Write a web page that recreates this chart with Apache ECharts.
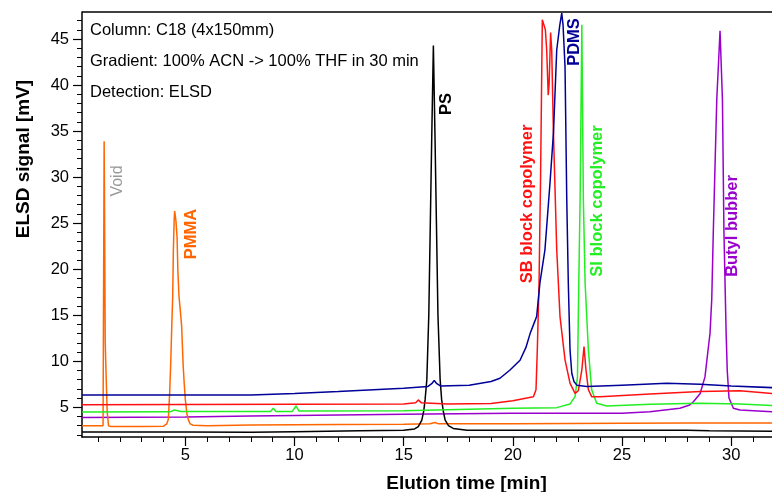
<!DOCTYPE html>
<html>
<head>
<meta charset="utf-8">
<script src="https://cdn.jsdelivr.net/npm/echarts@6/dist/echarts.min.js"></script>
<style>
  html, body { margin: 0; padding: 0; background: #fff; }
  #chart { width: 772px; height: 492px; }
</style>
</head>
<body>
<div id="chart"></div>
<script>
// Elution time [min] vs ELSD signal [mV], one trace per sample
const pmmaTrace = [[0.27,3.0],[1.0,3.0],[1.23,3.0],[1.255,18],[1.28,33.9],[1.30,26],[1.33,12],[1.37,8.5],[1.42,4.5],[1.48,3.0],[1.6,2.9],[3,2.9],[4.0,2.95],[4.15,3.2],[4.22,3.7],[4.28,6.5],[4.33,9.8],[4.38,14],[4.42,17],[4.45,22],[4.49,25.5],[4.51,26.3],[4.54,25.8],[4.57,25.2],[4.62,23.5],[4.66,19.6],[4.71,17],[4.77,15.5],[4.83,13.8],[4.9,9.5],[4.95,7.5],[5.0,5.8],[5.07,4.3],[5.14,3.6],[5.22,3.2],[5.36,3.05],[6,3.0],[8,3.08],[12,3.12],[15,3.15],[16.2,3.2],[16.44,3.35],[16.6,3.2],[20,3.2],[25,3.25],[28,3.3],[31.9,3.3]];
const psTrace = [[0.27,2.3],[5,2.3],[8,2.28],[10,2.35],[13,2.45],[15,2.5],[15.5,2.65],[15.67,2.9],[15.83,3.6],[15.92,4.6],[15.98,5.8],[16.06,8.0],[16.15,15],[16.22,25],[16.29,35],[16.36,44.3],[16.43,35],[16.5,25],[16.57,15],[16.67,8.0],[16.74,5.8],[16.82,4.5],[16.9,3.6],[17.05,3.0],[17.27,2.7],[17.9,2.5],[20,2.5],[25,2.5],[28,2.5],[29,2.45],[31.9,2.4]];
const pdmsTrace = [[0.27,6.34],[5,6.34],[8,6.34],[10,6.5],[12,6.7],[15,7.07],[16.1,7.25],[16.3,7.6],[16.4,7.9],[16.5,7.6],[16.7,7.3],[18,7.4],[19,7.8],[19.41,8.15],[19.87,9.05],[20.33,10.1],[20.6,11.5],[20.79,13.0],[21.0,14.3],[21.09,14.85],[21.24,18.5],[21.47,22.1],[21.7,29.3],[21.86,34.8],[22.01,43.8],[22.15,46.5],[22.24,47.8],[22.3,46.5],[22.39,42],[22.47,27.5],[22.54,18.5],[22.62,11.2],[22.7,8.7],[22.8,7.8],[22.93,7.4],[23.39,7.25],[25,7.4],[27.05,7.6],[28.58,7.5],[30,7.3],[31.9,7.13]];
const sbTrace = [[0.27,5.28],[5,5.3],[10,5.32],[15,5.35],[15.55,5.5],[15.67,5.8],[15.8,5.5],[17,5.35],[19,5.4],[20,5.7],[20.94,6.15],[21.06,6.9],[21.12,11.2],[21.2,18.5],[21.27,30],[21.35,47.1],[21.43,47.3],[21.49,46],[21.55,43.8],[21.62,38.9],[21.66,40],[21.73,45.7],[21.78,43.8],[21.86,34.8],[22.01,22.1],[22.16,14.85],[22.39,10.15],[22.62,7.6],[22.85,6.5],[23.0,6.8],[23.16,9.05],[23.26,11.6],[23.35,9.05],[23.46,6.9],[23.61,6.15],[24,6.15],[26.28,6.45],[28.58,6.7],[30.4,6.8],[31.9,6.5]];
const siTrace = [[0.27,4.49],[4.3,4.5],[4.5,4.7],[4.8,4.55],[8.9,4.55],[9.03,4.9],[9.15,4.55],[9.9,4.55],[10.07,5.14],[10.2,4.6],[15,4.63],[20,4.9],[22.01,4.96],[22.62,5.36],[22.85,6.15],[22.96,8.3],[23.02,18.5],[23.08,27.5],[23.16,46.55],[23.23,27.5],[23.31,18.5],[23.46,11.2],[23.61,6.9],[23.84,5.43],[24.3,5.14],[26.28,5.33],[28.58,5.43],[30.4,5.36],[31.9,5.2]];
const butylTrace = [[0.27,3.9],[5,3.95],[8,4.05],[15,4.24],[20,4.35],[25,4.35],[26.28,4.52],[27.65,4.9],[28.1,5.25],[28.27,5.6],[28.58,6.5],[28.8,8.3],[28.96,11.6],[29.03,13],[29.11,16.7],[29.18,23.9],[29.34,38.4],[29.49,45.9],[29.6,38.4],[29.67,23.9],[29.77,13],[29.82,9],[29.9,6.0],[30.1,4.9],[30.4,4.7],[31.9,4.5]];

const xMajorTicks = [5, 10, 15, 20, 25, 30];
const xMinorTicks = [1,2,3,4,5,6,7,8,9,10,11,12,13,14,15,16,17,18,19,20,21,22,23,24,25,26,27,28,29,30,31];
const yMajorTicks = [5, 10, 15, 20, 25, 30, 35, 40, 45];
const yMinorTicks = [2,3,4,5,6,7,8,9,10,11,12,13,14,15,16,17,18,19,20,21,22,23,24,25,26,27,28,29,30,31,32,33,34,35,36,37,38,39,40,41,42,43,44,45,46,47];

const FONT = "'Liberation Sans', Arial, sans-serif";
const X_MIN = 0.266, X_MAX = 31.87, Y_MIN = 1.77, Y_MAX = 47.93;

const chart = echarts.init(document.getElementById('chart'), null, { renderer: 'canvas' });

function axisBase(min, max) {
  return {
    type: 'value', min: min, max: max,
    splitLine: { show: false },
    axisLine: { show: true, lineStyle: { color: '#000', width: 1.5 } }
  };
}

function trace(name, data, color) {
  return {
    name: name, type: 'line', data: data,
    xAxisIndex: 0, yAxisIndex: 0,
    showSymbol: false, symbol: 'none',
    lineStyle: { color: color, width: 1.5 },
    animation: false
  };
}

function vtext(str, x, y, color, bold, size) {
  return {
    type: 'text', x: x, y: y, rotation: Math.PI / 2,
    style: {
      text: str, fill: color, align: 'center', verticalAlign: 'middle',
      font: (bold ? 'bold ' : '') + size + 'px ' + FONT
    }
  };
}

function htext(str, x, y) {
  return {
    type: 'text', x: x, y: y,
    style: { text: str, fill: '#000', align: 'left', verticalAlign: 'middle', font: '16.5px ' + FONT }
  };
}

chart.setOption({
  backgroundColor: '#fff',
  animation: false,
  grid: { left: 82, right: 0, top: 12, bottom: 55, containLabel: false },
  xAxis: [
    Object.assign(axisBase(X_MIN, X_MAX), {
      position: 'bottom',
      axisTick: { show: true, customValues: xMajorTicks, length: 9, lineStyle: { color: '#000', width: 1.2 } },
      axisLabel: { show: true, customValues: xMajorTicks, margin: 10, color: '#000', fontSize: 16.5, fontFamily: FONT }
    }),
    Object.assign(axisBase(X_MIN, X_MAX), {
      position: 'bottom',
      axisLine: { show: false },
      axisTick: { show: true, customValues: xMinorTicks, length: 5, lineStyle: { color: '#000', width: 1 } },
      axisLabel: { show: false }
    })
  ],
  yAxis: [
    Object.assign(axisBase(Y_MIN, Y_MAX), {
      position: 'left',
      axisTick: { show: true, customValues: yMajorTicks, length: 9, lineStyle: { color: '#000', width: 1.2 } },
      axisLabel: { show: true, customValues: yMajorTicks, margin: 13, color: '#000', fontSize: 16.5, fontFamily: FONT }
    }),
    Object.assign(axisBase(Y_MIN, Y_MAX), {
      position: 'left',
      axisLine: { show: false },
      axisTick: { show: true, customValues: yMinorTicks, length: 5, lineStyle: { color: '#000', width: 1 } },
      axisLabel: { show: false }
    })
  ],
  series: [
    trace('Butyl bubber', butylTrace, '#9900CC'),
    trace('PMMA', pmmaTrace, '#FF6600'),
    trace('PS', psTrace, '#000000'),
    trace('SI block copolymer', siTrace, '#22EE22'),
    trace('SB block copolymer', sbTrace, '#FF1111'),
    trace('PDMS', pdmsTrace, '#000099')
  ],
  graphic: [
    { type: 'line', shape: { x1: 82, y1: 12, x2: 772, y2: 12 }, style: { stroke: '#000', lineWidth: 1.5 } },
    htext('Column: C18 (4x150mm)', 90, 30),
    htext('Gradient: 100% ACN -> 100% THF in 30 min', 90, 61),
    htext('Detection: ELSD', 90, 92),
    vtext('Void', 118, 181, '#999999', false, 16),
    vtext('PMMA', 191, 234, '#FF6600', true, 16.5),
    vtext('PS', 446, 104, '#000000', true, 16.5),
    vtext('SB block copolymer', 527, 204, '#FF1111', true, 16.5),
    vtext('PDMS', 574, 42, '#000099', true, 16.5),
    vtext('SI block copolymer', 597.5, 201, '#22EE22', true, 16.5),
    vtext('Butyl bubber', 732, 226, '#9900CC', true, 16.5),
    vtext('ELSD signal [mV]', 24, 159, '#000000', true, 19),
    {
      type: 'text', x: 466.5, y: 484,
      style: { text: 'Elution time [min]', fill: '#000', align: 'center', verticalAlign: 'middle', font: 'bold 19px ' + FONT }
    }
  ]
});
</script>
</body>
</html>
